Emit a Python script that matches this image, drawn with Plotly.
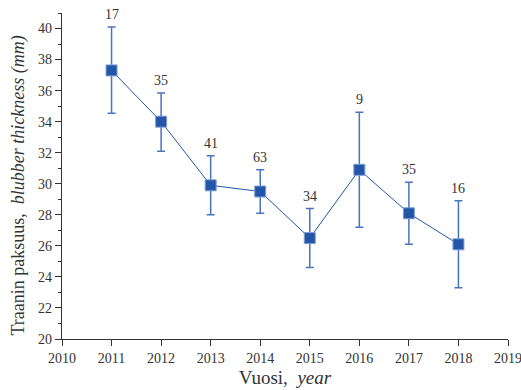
import plotly.graph_objects as go

years = [2011, 2012, 2013, 2014, 2015, 2016, 2017, 2018]
thickness = [37.3, 34.0, 29.9, 29.5, 26.5, 30.9, 28.1, 26.1]
err_upper = [40.1, 35.85, 31.8, 30.9, 28.4, 34.6, 30.1, 28.9]
err_lower = [34.55, 32.1, 28.0, 28.1, 24.6, 27.2, 26.1, 23.3]
sample_n = ["17", "35", "41", "63", "34", "9", "35", "16"]

x_ticks = list(range(2010, 2020))
y_ticks = list(range(20, 41, 2))

plus = [u - m for u, m in zip(err_upper, thickness)]
minus = [m - l for m, l in zip(thickness, err_lower)]

serif = "Liberation Serif"
blue = "#2356a8"

fig = go.Figure()
fig.add_trace(go.Scatter(
    x=years, y=thickness, mode="lines+markers",
    line=dict(color=blue, width=1),
    marker=dict(symbol="square", size=11, color=blue,
                line=dict(color="#7f9fd3", width=1)),
    error_y=dict(type="data", symmetric=False, array=plus, arrayminus=minus,
                 color="#4a74bd", thickness=1.5, width=4),
    showlegend=False,
))

for x, top, n in zip(years, err_upper, sample_n):
    fig.add_annotation(x=x, y=top, text=n, showarrow=False, yanchor="bottom",
                       yshift=3, font=dict(family=serif, size=14, color="#333"))

# y-axis title, placed slightly below the plot-area centre
fig.add_annotation(xref="paper", yref="paper", x=-0.097, y=0.47, xanchor="center",
                   yanchor="middle", textangle=-90, showarrow=False,
                   text="Traanin paksuus,  <i>blubber thickness (mm)</i>",
                   font=dict(family=serif, size=18, color="#333"))

axis_common = dict(
    showline=True, linecolor="#333", linewidth=1.3, showgrid=False, zeroline=False,
    ticks="outside", ticklen=6, tickcolor="#333", tickwidth=1.3, automargin=False,
    ticklabeloverflow="allow",
    tickfont=dict(family=serif, size=14, color="#333"),
)

fig.update_xaxes(range=[2010, 2019], tickvals=x_ticks, **axis_common,
                 title=dict(text="Vuosi,  <i>year</i>", font=dict(family=serif, size=19, color="#333"),
                            standoff=5))
fig.update_yaxes(range=[20, 41], tickvals=y_ticks, **axis_common,
                 minor=dict(dtick=1, ticks="outside", ticklen=3, tickcolor="#333", tickwidth=1.3))

fig.update_layout(
    width=521, height=390,
    margin=dict(l=62, r=13, t=13, b=51),
    plot_bgcolor="white", paper_bgcolor="white",
)

fig.write_html("out.html")
